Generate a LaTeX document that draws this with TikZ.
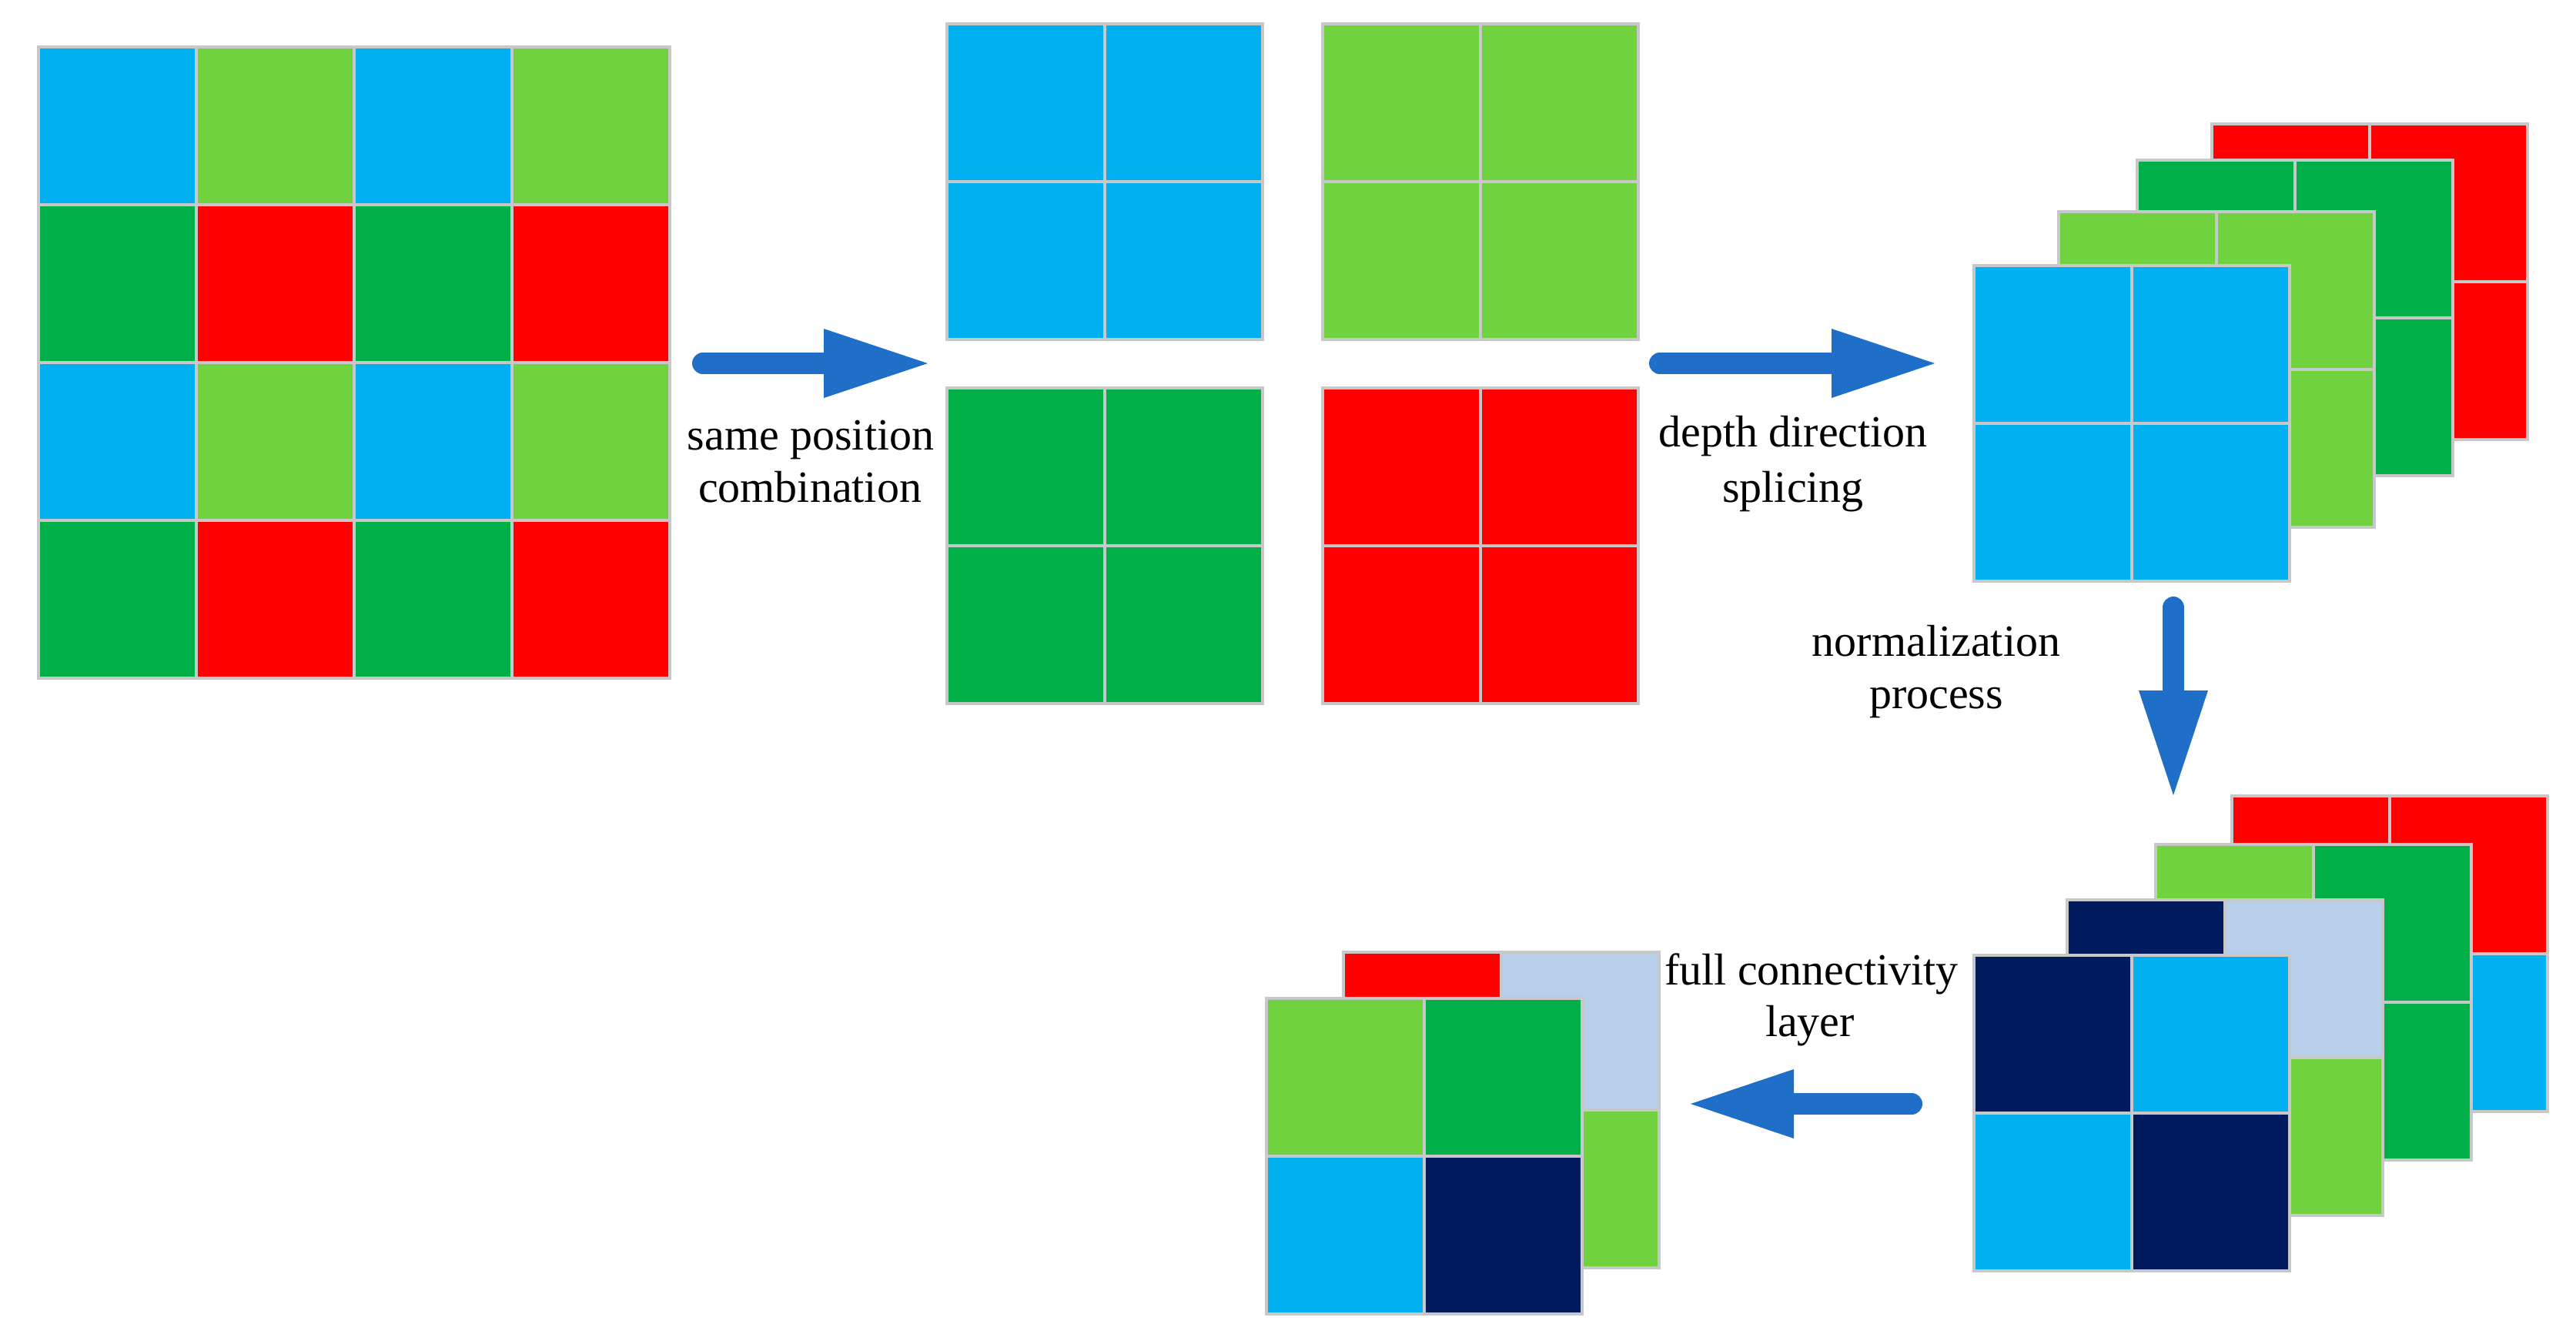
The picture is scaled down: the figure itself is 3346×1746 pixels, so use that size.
\documentclass[tikz,border=0pt]{standalone}
\usepackage{fontspec}
\setmainfont{Liberation Serif}
\definecolor{cyanc}{HTML}{00B0F0}
\definecolor{lgreen}{HTML}{70D23F}
\definecolor{dgreen}{HTML}{00AF47}
\definecolor{redc}{HTML}{FF0000}
\definecolor{navy}{HTML}{001A5E}
\definecolor{lblue}{HTML}{B8D0EA}
\definecolor{arrowc}{HTML}{1F6FC8}
\definecolor{gridc}{HTML}{C8C8C8}
\tikzset{
  gridline/.style={draw=gridc, line width=0.8pt},
  shaft/.style={draw=arrowc, line width=5.6pt, line cap=round},
  head/.style={fill=arrowc},
  lbl/.style={font=\fontsize{11.6}{13.6}\selectfont, inner sep=0pt, anchor=base}
}
% 2x2 layer: x, y (top-left), colours TL TR BL BR
\newcommand\qgrid[6]{%
  \fill[#3] (#1,#2) rectangle ++(205,205);
  \fill[#4] (#1+205,#2) rectangle ++(205,205);
  \fill[#5] (#1,#2+205) rectangle ++(205,205);
  \fill[#6] (#1+205,#2+205) rectangle ++(205,205);
  \draw[gridline] (#1,#2) rectangle ++(410,410) (#1+205,#2) -- ++(0,410) (#1,#2+205) -- ++(410,0);
}
\begin{document}
\begin{tikzpicture}[x=0.2pt,y=-0.2pt]
\useasboundingbox (0,0) rectangle (3346,1746);
\fill[white] (0,0) rectangle (3346,1746);

% big 4x4 grid
\qgrid{50}{61}{cyanc}{lgreen}{dgreen}{redc}
\qgrid{460}{61}{cyanc}{lgreen}{dgreen}{redc}
\qgrid{50}{471}{cyanc}{lgreen}{dgreen}{redc}
\qgrid{460}{471}{cyanc}{lgreen}{dgreen}{redc}

% four separated 2x2 blocks
\qgrid{1230}{31}{cyanc}{cyanc}{cyanc}{cyanc}
\qgrid{1718}{31}{lgreen}{lgreen}{lgreen}{lgreen}
\qgrid{1230}{504}{dgreen}{dgreen}{dgreen}{dgreen}
\qgrid{1718}{504}{redc}{redc}{redc}{redc}

% top-right stack
\qgrid{2873}{161}{redc}{redc}{redc}{redc}
\qgrid{2776}{208}{dgreen}{dgreen}{dgreen}{dgreen}
\qgrid{2674}{275}{lgreen}{lgreen}{lgreen}{lgreen}
\qgrid{2564}{345}{cyanc}{cyanc}{cyanc}{cyanc}

% bottom-right stack
\qgrid{2899}{1034}{redc}{redc}{cyanc}{cyanc}
\qgrid{2800}{1097}{lgreen}{dgreen}{dgreen}{dgreen}
\qgrid{2685}{1169}{navy}{lblue}{lgreen}{lgreen}
\qgrid{2564}{1241}{navy}{cyanc}{cyanc}{navy}

% bottom-left stack
\qgrid{1745}{1237}{redc}{lblue}{lgreen}{lgreen}
\qgrid{1645}{1297}{lgreen}{dgreen}{cyanc}{navy}

% arrow 1
\coordinate (a1s) at (913,472);
\coordinate (a1b) at (1080,472);
\coordinate (a1u) at (1070,427);
\coordinate (a1d) at (1070,517);
\coordinate (a1t) at (1205,472);
\draw[shaft] (a1s) -- (a1b);
\fill[head] (a1u) -- (a1t) -- (a1d) -- cycle;

% arrow 2
\coordinate (a2s) at (2156,472);
\coordinate (a2b) at (2389,472);
\coordinate (a2u) at (2379,427);
\coordinate (a2d) at (2379,517);
\coordinate (a2t) at (2513,472);
\draw[shaft] (a2s) -- (a2b);
\fill[head] (a2u) -- (a2t) -- (a2d) -- cycle;

% arrow 3 (down)
\coordinate (a3s) at (2823,789);
\coordinate (a3b) at (2823,907);
\coordinate (a3l) at (2778,897);
\coordinate (a3r) at (2868,897);
\coordinate (a3t) at (2823,1033);
\draw[shaft] (a3s) -- (a3b);
\fill[head] (a3l) -- (a3t) -- (a3r) -- cycle;

% arrow 4 (left)
\coordinate (a4s) at (2483,1434);
\coordinate (a4b) at (2320,1434);
\coordinate (a4u) at (2330,1389);
\coordinate (a4d) at (2330,1479);
\coordinate (a4t) at (2196,1434);
\draw[shaft] (a4s) -- (a4b);
\fill[head] (a4u) -- (a4t) -- (a4d) -- cycle;

% labels
\node[lbl] (t1a) at (1053,584) {same position};
\node[lbl] (t1b) at (1052,652) {combination};
\node[lbl] (t2a) at (2329,580) {depth direction};
\node[lbl] (t2b) at (2329,652) {splicing};
\node[lbl] (t3a) at (2515,852) {normalization};
\node[lbl] (t3b) at (2515,920) {process};
\node[lbl] (t4a) at (2353,1279) {full connectivity};
\node[lbl] (t4b) at (2351,1346) {layer};
\end{tikzpicture}
\end{document}
